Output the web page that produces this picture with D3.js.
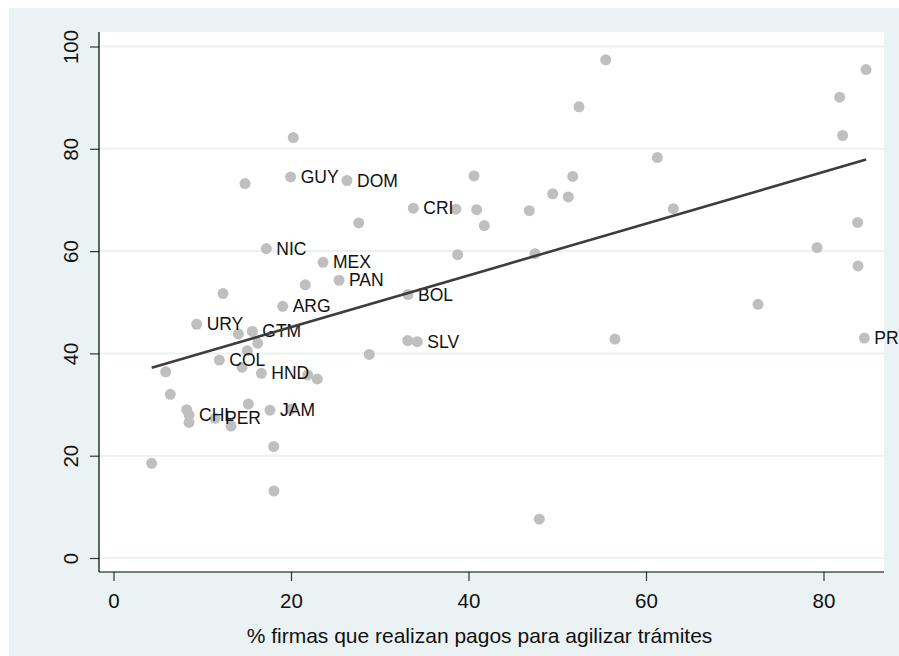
<!DOCTYPE html>
<html>
<head>
<meta charset="utf-8">
<script src="https://cdn.jsdelivr.net/npm/d3@7"></script>
<style>
  html, body { margin: 0; padding: 0; background: #ffffff; }
  svg { display: block; }
  text { font-family: "Liberation Sans", Arial, Helvetica, sans-serif; }
</style>
</head>
<body>
<svg id="chart" width="899" height="656"></svg>
<script>
// Share of firms making payments to speed up procedures (x) vs. outcome index (y)
const pagos = [4.30, 5.88, 6.40, 8.25, 8.51, 8.51, 9.37, 11.44, 11.92, 12.34, 13.24, 14.07, 14.48, 14.82, 15.08, 15.19,
  15.64, 16.25, 16.66, 17.22, 17.63, 18.05, 18.08, 19.06, 19.96, 20.00, 20.25, 21.61, 21.88, 22.96, 23.61, 25.41,
  26.31, 27.63, 28.82, 33.18, 33.15, 34.23, 33.78, 38.59, 38.78, 40.62, 40.92, 41.78, 46.85, 47.49, 47.98, 49.49,
  51.25, 51.74, 52.45, 55.46, 56.50, 61.28, 63.08, 72.62, 79.27, 81.82, 82.16, 83.85, 83.89, 84.79, 84.60];
const indice = [18.5, 36.4, 32.0, 29.0, 28.0, 26.5, 45.7, 27.3, 38.7, 51.7, 25.8, 43.8, 37.3, 73.2, 40.5, 30.1,
  44.3, 42.0, 36.1, 60.5, 28.9, 21.8, 13.1, 49.2, 74.5, 29.1, 82.2, 53.4, 35.8, 35.0, 57.8, 54.3,
  73.8, 65.5, 39.8, 51.5, 42.5, 42.3, 68.4, 68.2, 59.3, 74.7, 68.1, 65.0, 67.9, 59.5, 7.6, 71.2,
  70.6, 74.6, 88.2, 97.4, 42.8, 78.3, 68.3, 49.6, 60.7, 90.1, 82.6, 65.6, 57.1, 95.5, 43.0];
const paises = ["", "", "", "", "CHL", "", "URY", "PER", "COL", "", "", "", "", "", "", "",
  "GTM", "", "HND", "NIC", "JAM", "", "", "ARG", "GUY", "", "", "", "", "", "MEX", "PAN",
  "DOM", "", "", "BOL", "", "SLV", "CRI", "", "", "", "", "", "", "", "", "",
  "", "", "", "", "", "", "", "", "", "", "", "", "", "", "PRY"];

// Linear fit endpoints
const ajusteX = [4.3, 84.8];
const ajusteY = [37.2, 77.9];

const xTicks = [0, 20, 40, 60, 80];
const yTicks = [0, 20, 40, 60, 80, 100];
const xTitle = "% firmas que realizan pagos para agilizar trámites";

const svg = d3.select("#chart");
const plot = { left: 99, right: 884, top: 32, bottom: 572 };

const x = d3.scaleLinear().domain([0, 80]).range([113.5, 823.5]);
const y = d3.scaleLinear().domain([0, 100]).range([558, 46.5]);

// outer background
svg.append("rect").attr("x", 9).attr("y", 8).attr("width", 890).attr("height", 648)
  .attr("fill", "#eaf2f3");
// plot region
svg.append("rect").attr("x", plot.left).attr("y", plot.top)
  .attr("width", plot.right - plot.left).attr("height", plot.bottom - plot.top)
  .attr("fill", "#ffffff");

// horizontal grid
svg.append("g").selectAll("line").data(yTicks).join("line")
  .attr("x1", plot.left).attr("x2", plot.right)
  .attr("y1", d => y(d)).attr("y2", d => y(d))
  .attr("stroke", "#eaf2f3").attr("stroke-width", 2);

// y axis
const yAxis = svg.append("g").attr("transform", `translate(${plot.left},0)`)
  .call(d3.axisLeft(y).tickValues(yTicks).tickSize(9).tickPadding(8).tickFormat(d3.format("d")));
yAxis.select(".domain").remove();
yAxis.selectAll(".tick line").attr("stroke", "#333").attr("stroke-width", 1.2);
yAxis.selectAll(".tick text")
  .attr("font-size", 20.5).attr("fill", "#111")
  .attr("x", null).attr("dy", null)
  .attr("text-anchor", "middle")
  .attr("transform", "translate(-21,0) rotate(-90)")
  .attr("dominant-baseline", "auto")
  .attr("y", 0);
svg.append("line").attr("x1", plot.left).attr("x2", plot.left)
  .attr("y1", plot.top).attr("y2", plot.bottom).attr("stroke", "#000").attr("stroke-width", 1.2);

// x axis
const xAxis = svg.append("g").attr("transform", `translate(0,${plot.bottom})`)
  .call(d3.axisBottom(x).tickValues(xTicks).tickSize(9).tickPadding(12).tickFormat(d3.format("d")));
xAxis.select(".domain").remove();
xAxis.selectAll(".tick line").attr("stroke", "#333").attr("stroke-width", 1.2);
xAxis.selectAll(".tick text").attr("font-size", 20.5).attr("fill", "#111");
svg.append("line").attr("x1", plot.left).attr("x2", plot.right)
  .attr("y1", plot.bottom).attr("y2", plot.bottom).attr("stroke", "#000").attr("stroke-width", 1.2);

svg.append("text").attr("x", (plot.left + plot.right) / 2 - 12).attr("y", 643)
  .attr("text-anchor", "middle").attr("font-size", 21).attr("fill", "#111")
  .text(xTitle);

// scatter points
const datos = pagos.map((v, i) => ({ px: v, py: indice[i], lab: paises[i] }));
svg.append("g").selectAll("circle").data(datos).join("circle")
  .attr("cx", d => x(d.px)).attr("cy", d => y(d.py)).attr("r", 5.5)
  .attr("fill", "#bfbfbf");

// country labels
svg.append("g").selectAll("text").data(datos.filter(d => d.lab)).join("text")
  .attr("x", d => x(d.px) + 10).attr("y", d => y(d.py))
  .attr("dominant-baseline", "central")
  .attr("font-size", 17.5).attr("fill", "#111")
  .text(d => d.lab);

// fitted line
svg.append("line")
  .attr("x1", x(ajusteX[0])).attr("y1", y(ajusteY[0]))
  .attr("x2", x(ajusteX[1])).attr("y2", y(ajusteY[1]))
  .attr("stroke", "#3d3d3d").attr("stroke-width", 2.6);
</script>
</body>
</html>
